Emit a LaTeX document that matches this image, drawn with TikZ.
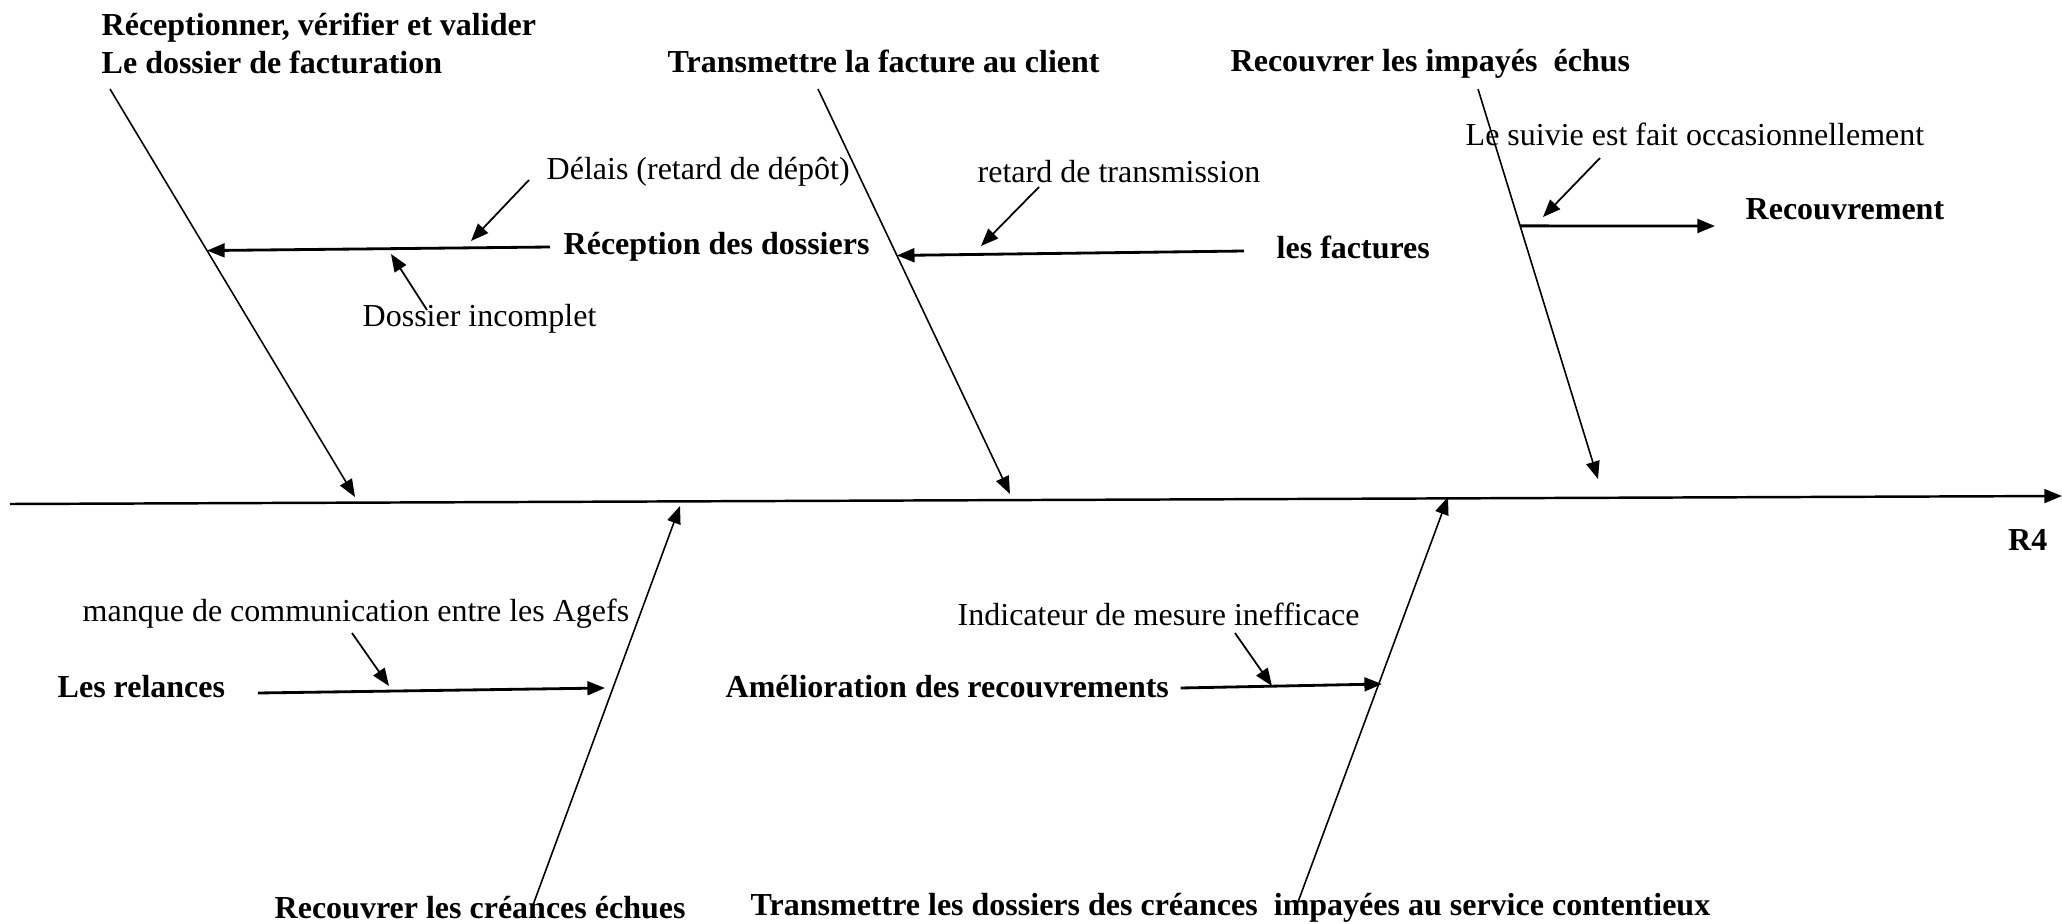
\documentclass[tikz,border=0pt]{standalone}
\usepackage{fontspec}
\setmainfont{Liberation Serif}
\usetikzlibrary{arrows.meta,positioning,calc}
\tikzset{
  spine/.style={line width=0.7pt,-{Triangle[length=5pt,width=3.9pt]}},
  bone/.style={line width=0.45pt,-{Triangle[length=5pt,width=3.9pt]}},
  subarr/.style={line width=0.8pt,-{Triangle[length=5pt,width=3.9pt]}},
  causearr/.style={line width=0.5pt,-{Triangle[length=5pt,width=3.9pt]}},
  head/.style={inner sep=0pt,anchor=west,font=\fontsize{9.1}{10.8}\selectfont\bfseries},
  cause/.style={inner sep=0pt,anchor=west,font=\fontsize{9.1}{10.8}\selectfont},
}
\begin{document}
\begin{tikzpicture}[x=0.01cm,y=-0.01cm]
  \useasboundingbox (0,0) rectangle (2062,924);

  % spine
  \coordinate (sL) at (10,504);
  \coordinate (sR) at (2062,496);
  \draw[spine] (sL) -- (sR);
  \node[head,anchor=east] (r4) at (2048,540) {R4};

  % upper bones
  \node[head,align=left] (hA) at (101,43) {Réceptionner, vérifier et valider\\Le dossier de facturation};
  \node[head] (hB) at (667,61) {Transmettre la facture au client};
  \node[head] (hC) at (1230,64) {Recouvrer les impayés~ échus};
  \coordinate (aS) at (110,89);  \coordinate (aE) at (355,497);
  \coordinate (bS) at (818,89);  \coordinate (bE) at (1010,494);
  \coordinate (cS) at (1478,89); \coordinate (cE) at (1598,479);
  \draw[bone] (aS) -- (aE) coordinate[pos=0.396] (aM);
  \draw[bone] (bS) -- (bE) coordinate[pos=0.411] (bM);
  \draw[bone] (cS) -- (cE) coordinate[pos=0.351] (cM);

  % causes, bone A
  \node[head] (recep) at (563,247) {Réception des dossiers};
  \node[cause] (delais) at (546,172) {Délais (retard de dépôt)};
  \node[cause] (incompl) at (362,319) {Dossier incomplet};
  \coordinate (tDelais) at (471,241);
  \coordinate (tIncompl) at (391,254);
  \draw[subarr] ($(recep.west)+(-13,0)$) -- (aM);
  \draw[causearr] ($(delais.west)+(-17,8)$) -- (tDelais);
  \draw[causearr] ($(incompl.west)+(65,-9)$) -- (tIncompl);

  % causes, bone B
  \node[head] (fact) at (1276,247) {les factures};
  \node[cause] (transm) at (977,172) {retard de transmission};
  \coordinate (tTransm) at (981,246);
  \draw[subarr] ($(fact.west)+(-32,4)$) -- (bM);
  \draw[causearr] ($(transm.west)+(62,15)$) -- (tTransm);

  % causes, bone C
  \node[head] (recouv) at (1745,209) {Recouvrement};
  \node[cause] (suivi) at (1465,134) {Le suivie est fait occasionnellement};
  \coordinate (tRecouv) at (1715,226);
  \coordinate (tSuivi) at (1543,217);
  \draw[subarr] (cM) -- (tRecouv);
  \draw[causearr] ($(suivi.west)+(135,24)$) -- (tSuivi);

  % lower bones
  \node[head] (hD) at (274,908) {Recouvrer les créances échues};
  \node[head] (hE) at (750,908) {Transmettre les dossiers des créances~ impayées au service contentieux};
  \coordinate (dS) at (533,905);  \coordinate (dE) at (680,506);
  \coordinate (eS) at (1298,902); \coordinate (eE) at (1448,497);
  \draw[bone] (dS) -- (dE);
  \draw[bone] (eS) -- (eE);

  % causes, bone D
  \node[head] (relan) at (57,687) {Les relances};
  \node[cause] (manque) at (82,614) {manque de communication entre les Agefs};
  \coordinate (tRelan) at (605,688);
  \coordinate (tManque) at (389,686);
  \draw[subarr] ($(relan.east)+(32,6)$) -- (tRelan);
  \draw[causearr] ($(manque.west)+(270,19)$) -- (tManque);

  % causes, bone E
  \node[head] (amel) at (725,687) {Amélioration des recouvrements};
  \node[cause] (indic) at (957,614) {Indicateur de mesure inefficace};
  \coordinate (tAmel) at (1382,684);
  \coordinate (tIndic) at (1272,686);
  \draw[subarr] ($(amel.east)+(11,1)$) -- (tAmel);
  \draw[causearr] ($(indic.west)+(278,19)$) -- (tIndic);
\end{tikzpicture}
\end{document}
